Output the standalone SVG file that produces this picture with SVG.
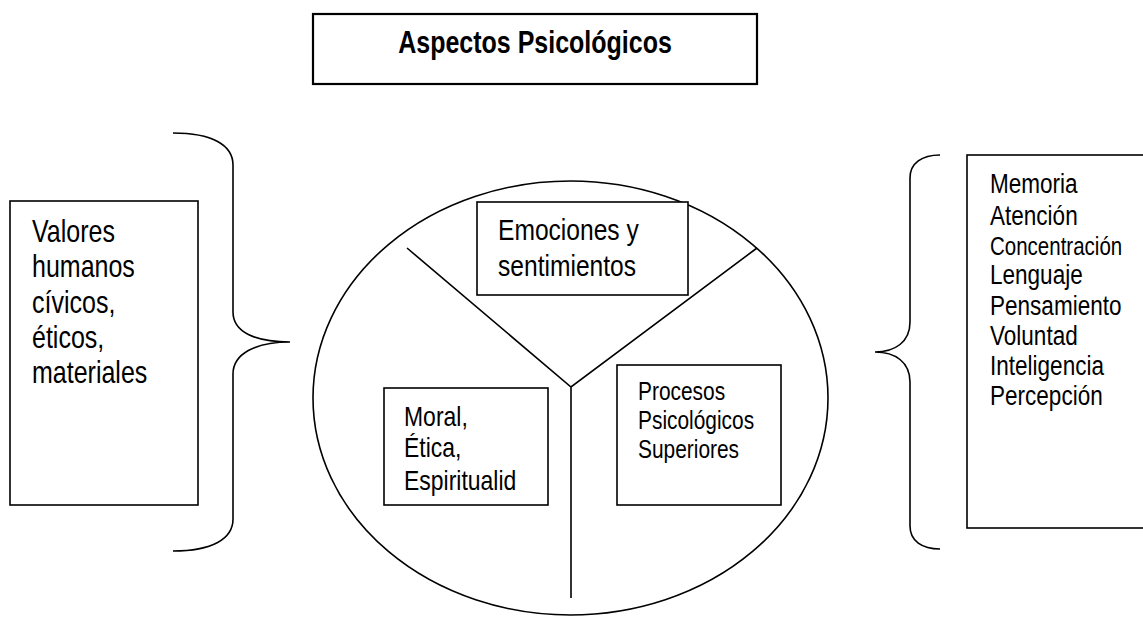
<svg xmlns="http://www.w3.org/2000/svg" width="1143" height="619" viewBox="0 0 1143 619">
  <style>
    .box { fill: #fff; stroke: #000; stroke-width: 1.6; }
    .line { fill: none; stroke: #000; stroke-width: 1.6; }
    text { font-family: "Liberation Sans Narrow", "Arial Narrow", "Liberation Sans", Arial, sans-serif; fill: #000; }
    .title { font-size: 30.5px; font-weight: bold; }
  </style>
  <rect width="1143" height="619" fill="#fff"/>

  <g id="title">
    <rect class="box" x="313" y="14" width="444" height="70" style="stroke-width:2.2"/>
    <g transform="translate(535,0) scale(0.82,1)">
      <text class="title" x="0" y="53" text-anchor="middle">Aspectos Psicológicos</text>
    </g>
  </g>

  <g id="valores">
    <rect class="box" x="10" y="201" width="188" height="304"/>
    <g transform="translate(32,0) scale(0.82,1)">
      <text style="font-size:30.5px">
        <tspan x="0" y="242">Valores</tspan>
        <tspan x="0" y="277">humanos</tspan>
        <tspan x="0" y="313">cívicos,</tspan>
        <tspan x="0" y="348">éticos,</tspan>
        <tspan x="0" y="383">materiales</tspan>
      </text>
    </g>
  </g>

  <g id="brace-left">
    <path class="line" d="M173,133 C212,133 233,145 233,165 V312 C233,332 255,342 290,342 C255,342 233,354 233,374 V519 C233,539 212,551 173,551"/>
  </g>

  <g id="circulo">
    <ellipse class="line" cx="570.5" cy="398" rx="257.5" ry="217"/>
  </g>

  <g id="connectors">
    <path class="line" d="M407,248 L571,387 L757,248 M571,387 V598"/>
  </g>

  <g id="emociones">
    <rect class="box" x="477" y="202" width="211" height="93"/>
    <g transform="translate(498,0) scale(0.82,1)">
      <text style="font-size:30px">
        <tspan x="0" y="240">Emociones y</tspan>
        <tspan x="0" y="276">sentimientos</tspan>
      </text>
    </g>
  </g>

  <g id="moral">
    <rect class="box" x="384" y="388" width="164" height="117"/>
    <g transform="translate(404,0) scale(0.82,1)">
      <text style="font-size:28px">
        <tspan x="0" y="426">Moral,</tspan>
        <tspan x="0" y="457">Ética,</tspan>
        <tspan x="0" y="490">Espiritualid</tspan>
      </text>
    </g>
  </g>

  <g id="procesos">
    <rect class="box" x="617" y="365" width="164" height="140"/>
    <g transform="translate(638,0) scale(0.82,1)">
      <text style="font-size:25.5px">
        <tspan x="0" y="400">Procesos</tspan>
        <tspan x="0" y="429">Psicológicos</tspan>
        <tspan x="0" y="458">Superiores</tspan>
      </text>
    </g>
  </g>

  <g id="brace-right">
    <path class="line" d="M940,155 C922,155 910,163 910,178 V322 C910,342 895,352 875,352 C895,352 910,362 910,382 V526 C910,541 922,549 940,549"/>
  </g>

  <g id="procesos-lista">
    <rect class="box" x="967" y="155" width="200" height="373"/>
    <g transform="translate(990,0) scale(0.82,1)">
      <text style="font-size:27.5px">
        <tspan x="0" y="193">Memoria</tspan>
        <tspan x="0" y="225">Atención</tspan>
        <tspan x="0" y="255" style="font-size:25px">Concentración</tspan>
        <tspan x="0" y="284">Lenguaje</tspan>
        <tspan x="0" y="315">Pensamiento</tspan>
        <tspan x="0" y="345">Voluntad</tspan>
        <tspan x="0" y="375">Inteligencia</tspan>
        <tspan x="0" y="405">Percepción</tspan>
      </text>
    </g>
  </g>
</svg>
